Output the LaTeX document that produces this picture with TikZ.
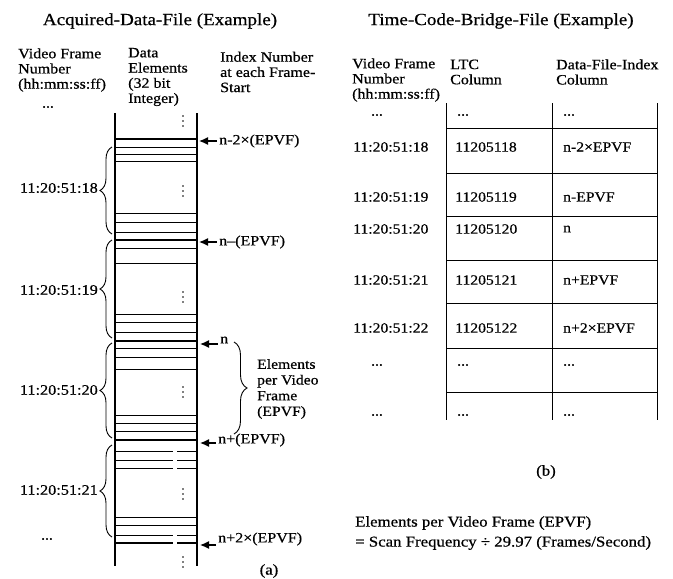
\documentclass[tikz,border=0pt]{standalone}
\usepackage{fontspec}
\setmainfont{Liberation Serif}[FakeStretch=1.12,FakeBold=0.6]
\usetikzlibrary{arrows.meta,decorations.pathreplacing}
\begin{document}
\begin{tikzpicture}[x=1pt,y=-1pt,
  hdr/.style={align=left,anchor=west,inner sep=0pt,font=\fontsize{14.3}{15.2}\selectfont},
  ttl/.style={inner sep=0pt,font=\fontsize{17}{20}\selectfont},
  val/.style={anchor=west,inner sep=0pt,font=\fontsize{14}{16}\selectfont},
  tlab/.style={anchor=east,inner sep=0pt,font=\fontsize{14.5}{16}\selectfont},
  idx/.style={anchor=west,inner sep=0pt,font=\fontsize{14.3}{16}\selectfont},
  elem/.style={line width=0.9pt},
  fstart/.style={line width=2pt},
  colline/.style={line width=1.1pt},
  tabline/.style={line width=0.9pt},
  arr/.style={-{Latex[length=9pt,width=8pt]},line width=1.3pt,shorten <=2pt},
  lbrace/.style={decorate,decoration={brace,amplitude=12pt},line width=0.9pt},
  rbrace/.style={decorate,decoration={brace,amplitude=13pt},line width=0.9pt},
  dotc/.style={fill=black},
]
\useasboundingbox (0,0) rectangle (673,579);

% ---------------- left panel -----------------
\node[ttl] (lt) at (160,21) {Acquired-Data-File (Example)};
\node[hdr] (lh1) at (18,70) {Video Frame\\Number\\(hh:mm:ss:ff)};
\node[hdr] (lh2) at (128,77) {Data\\Elements\\(32 bit\\Integer)};
\node[hdr] (lh3) at (220,72) {Index Number\\at each Frame-\\Start};
\node[val,anchor=center] (ld1) at (48,107) {...};

% column
\draw[colline] (115,113) -- (115,566);
\draw[colline] (197,113) -- (197,566);
\foreach \yy in {147,154,161,213,222,232,248,263,314,322,332,348,357,369,415,423,431,517,525}
  \draw[elem] (115,\yy) -- (197,\yy);
\foreach \yy in {139,240,341,440}
  \draw[fstart] (115,\yy) -- (197,\yy);
\foreach \yy in {451,460,468,535}
  {\draw[elem] (115,\yy) -- (173,\yy); \draw[elem] (177,\yy) -- (197,\yy);}
\draw[fstart] (115,543) -- (173,543);
\draw[fstart] (177,543) -- (197,543);
\foreach \yy in {116,186,292,387,489,557}
  {\fill[dotc] (183,\yy) circle[radius=0.9pt];
   \fill[dotc] (183,\yy+5) circle[radius=0.9pt];
   \fill[dotc] (183,\yy+10) circle[radius=0.9pt];}

% frame labels and braces
\node[tlab] (f18) at (98,188) {11:20:51:18};
\node[tlab] (f19) at (98,290) {11:20:51:19};
\node[tlab] (f20) at (98,390) {11:20:51:20};
\node[tlab] (f21) at (98,490) {11:20:51:21};
\node[val,anchor=center] (ld2) at (47,539) {...};
\coordinate (b18t) at (112,147); \coordinate (b18b) at (112,234);
\coordinate (b19t) at (112,240); \coordinate (b19b) at (112,338);
\coordinate (b20t) at (112,343); \coordinate (b20b) at (112,438);
\coordinate (b21t) at (112,445); \coordinate (b21b) at (112,537);
\draw[lbrace] (b18b) -- (b18t);
\draw[lbrace] (b19b) -- (b19t);
\draw[lbrace] (b20b) -- (b20t);
\draw[lbrace] (b21b) -- (b21t);

% index labels
\node[idx] (i1) at (219,141) {n-2×(EPVF)};
\node[idx] (i2) at (219,242) {n–(EPVF)};
\node[idx] (i3) at (220,340) {n};
\node[idx] (i4) at (218,440) {n+(EPVF)};
\node[idx] (i5) at (218,539) {n+2×(EPVF)};
\coordinate (a1) at (199,141);
\coordinate (a2) at (199,242);
\coordinate (a3) at (200,344);
\coordinate (a4) at (200,443);
\coordinate (a5) at (200,545);
\draw[arr] (i1.west) -- (a1);
\draw[arr] (i2.west) -- (a2);
\draw[arr] (i3.west |- a3) -- (a3);
\draw[arr] (i4.west |- a4) -- (a4);
\draw[arr] (i5.west |- a5) -- (a5);

% EPVF brace
\coordinate (eb1) at (234,342); \coordinate (eb2) at (234,434);
\draw[rbrace] (eb1) -- (eb2);
\node[hdr,font=\fontsize{14}{15.7}\selectfont] (epvf) at (257,389) {Elements\\per Video\\Frame\\(EPVF)};
\node[ttl,font=\fontsize{15}{18}\selectfont] (capa) at (269,571) {(a)};

% ---------------- right panel -----------------
\node[ttl] (rt) at (501,21) {Time-Code-Bridge-File (Example)};
\node[hdr] (rh1) at (352,80) {Video Frame\\Number\\(hh:mm:ss:ff)};
\node[hdr] (rh2) at (450,72) {LTC\\Column};
\node[hdr] (rh3) at (556,72) {Data-File-Index\\Column};

\foreach \xx in {446,552,657}
  \draw[tabline] (\xx,103) -- (\xx,420);
\foreach \yy in {128,173,216,260,303,348,392}
  \draw[tabline] (446,\yy) -- (657,\yy);

\node[val,anchor=center] (r0a) at (377,115) {...};
\node[val] (r0b) at (457,115) {...};
\node[val] (r0c) at (563,115) {...};

\node[val] (r1a) at (353,147) {11:20:51:18};
\node[val] (r1b) at (455,147) {11205118};
\node[val] (r1c) at (563,147) {n-2×EPVF};

\node[val] (r2a) at (353,197) {11:20:51:19};
\node[val] (r2b) at (455,197) {11205119};
\node[val] (r2c) at (563,197) {n-EPVF};

\node[val] (r3a) at (353,229) {11:20:51:20};
\node[val] (r3b) at (455,229) {11205120};
\node[val] (r3c) at (563,229) {n};

\node[val] (r4a) at (353,280) {11:20:51:21};
\node[val] (r4b) at (455,280) {11205121};
\node[val] (r4c) at (563,280) {n+EPVF};

\node[val] (r5a) at (353,328) {11:20:51:22};
\node[val] (r5b) at (455,328) {11205122};
\node[val] (r5c) at (563,328) {n+2×EPVF};

\node[val,anchor=center] (r6a) at (377,365) {...};
\node[val] (r6b) at (457,365) {...};
\node[val] (r6c) at (563,365) {...};

\node[val,anchor=center] (r7a) at (377,415) {...};
\node[val] (r7b) at (457,415) {...};
\node[val] (r7c) at (563,415) {...};

\node[ttl,font=\fontsize{15}{18}\selectfont] (capb) at (546,472) {(b)};

\node[val,font=\fontsize{15}{17}\selectfont] (note1) at (355,523) {Elements per Video Frame (EPVF)};
\node[val,font=\fontsize{15}{17}\selectfont] (note2) at (355,543) {= Scan Frequency ÷ 29.97 (Frames/Second)};
\end{tikzpicture}
\end{document}
